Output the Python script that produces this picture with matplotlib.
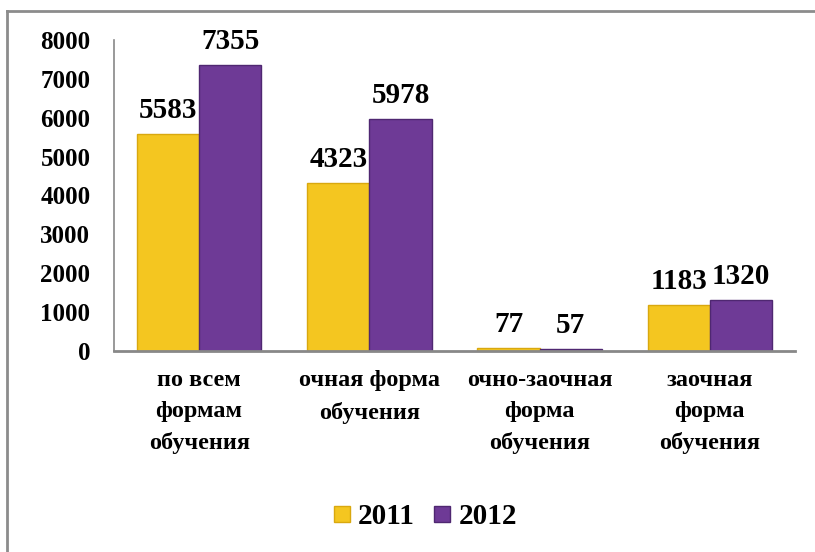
import matplotlib
matplotlib.use("Agg")
import matplotlib.pyplot as plt
import numpy as np
from matplotlib.lines import Line2D

categories = ["по всем\nформам\nобучения", "очная форма\nобучения",
              "очно-заочная\nформа\nобучения", "заочная\nформа\nобучения"]
series_names = ["2011", "2012"]
values_2011 = [5583, 4323, 77, 1183]
values_2012 = [7355, 5978, 57, 1320]
yticks = [0, 1000, 2000, 3000, 4000, 5000, 6000, 7000, 8000]

colors = ["#F4C620", "#6E3A96"]
edges = ["#D9A80F", "#4F2771"]

plt.rcParams['font.family'] = ['Liberation Serif', 'DejaVu Serif']

fig = plt.figure(figsize=(8.15, 5.52), dpi=100)
ax = fig.add_axes([114/815, 1-351/552, 681/815, 311/552])

x = np.arange(len(categories))
w = 0.365
for i, (vals, c, ec) in enumerate(zip([values_2011, values_2012], colors, edges)):
    xs = x + (i - 0.5) * w
    ax.bar(xs, vals, width=w, color=c, edgecolor=ec, linewidth=1.0, label=series_names[i])
    for xi, v in zip(xs, vals):
        ax.annotate(str(v), (xi, v), xytext=(0, 7), textcoords="offset points",
                    ha="center", va="bottom", fontsize=21, fontweight="bold")

ax.set_xlim(-0.5, len(categories) - 0.5)
ax.set_ylim(0, 8000)
ax.set_yticks(yticks)
ax.set_yticklabels([str(t) for t in yticks], fontsize=18, fontweight="bold")
ax.set_xticks(x)
ax.set_xticklabels(categories, fontsize=17.5, fontweight="bold", linespacing=1.6)
ax.tick_params(axis="both", length=0)
ax.tick_params(axis="y", pad=17)
ax.tick_params(axis="x", pad=14)
for s in ["top", "right"]:
    ax.spines[s].set_visible(False)
ax.spines["left"].set_color("#888888")
ax.spines["bottom"].set_color("#888888")
ax.spines["bottom"].set_linewidth(2)
ax.spines["left"].set_linewidth(1.2)

handles = [Line2D([], [], marker="s", linestyle="none", markersize=12,
                  markerfacecolor=colors[i], markeredgecolor=edges[i], label=series_names[i])
           for i in range(2)]
fig.legend(handles=handles, loc="center", bbox_to_anchor=(422/815, 1-517/552),
           ncol=2, frameon=False, prop={"size": 21, "weight": "bold"},
           handletextpad=0.05, columnspacing=0.45, handlelength=1.0)

# outer frame (left and top edges)
fig.add_artist(Line2D([7/815, 7/815], [0, 1-11/552], transform=fig.transFigure, color="#8c8c8c", lw=2))
fig.add_artist(Line2D([7/815, 1], [1-11/552, 1-11/552], transform=fig.transFigure, color="#8c8c8c", lw=2))

fig.savefig("out.png", dpi=100)
